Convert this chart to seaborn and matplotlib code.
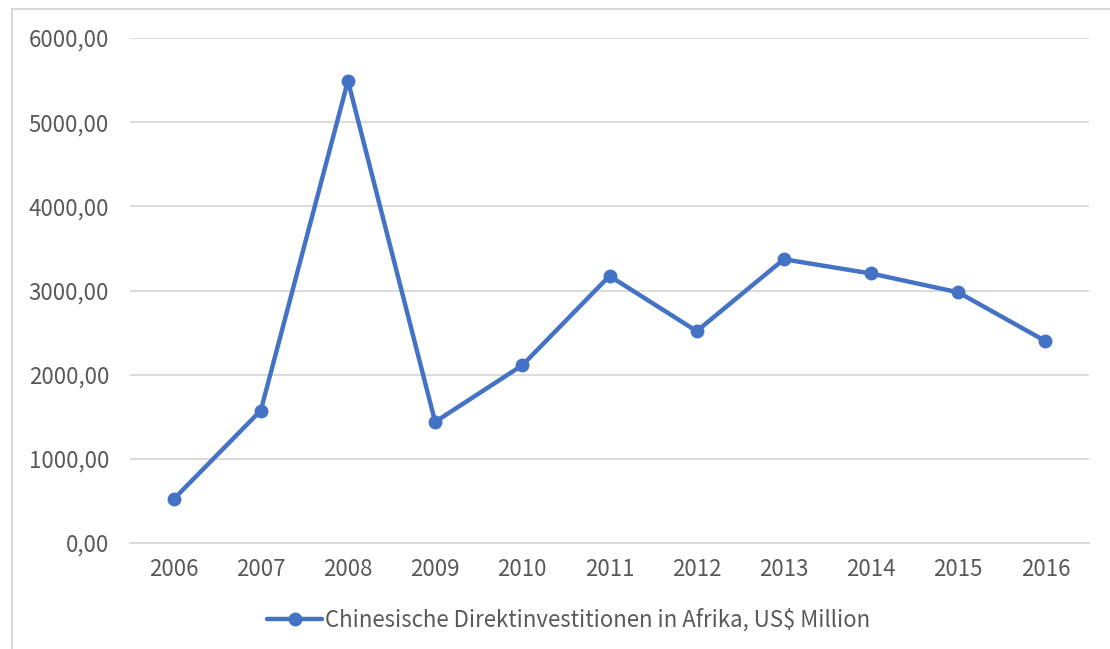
import matplotlib
matplotlib.use("Agg")
import matplotlib.pyplot as plt
import seaborn as sns
import pandas as pd
from matplotlib.ticker import FuncFormatter, MultipleLocator
from matplotlib.patches import Rectangle

years = ["2006", "2007", "2008", "2009", "2010", "2011", "2012", "2013", "2014", "2015", "2016"]
fdi = [520, 1574, 5491, 1439, 2112, 3173, 2517, 3371, 3202, 2978, 2399]
series_name = "Chinesische Direktinvestitionen in Afrika, US$ Million"

sns.set_style("white")
plt.rcParams['font.family'] = ['Noto Sans CJK SC', 'DejaVu Sans']

df = pd.DataFrame({"Jahr": years, "Wert": fdi, "Serie": series_name})

fig = plt.figure(figsize=(11.1, 6.49), dpi=100)
ax = fig.add_axes([130/1110, 1-543/649, (1089-130)/1110, (543-38)/649])

line_col = "#4472C4"
sns.lineplot(data=df, x="Jahr", y="Wert", hue="Serie", palette=[line_col],
             marker="o", markersize=10, markeredgewidth=0, linewidth=3.2,
             ax=ax, sort=False)

ax.set_xlim(-0.5, len(years) - 0.5)
ax.set_ylim(0, 6000)
ax.yaxis.set_major_locator(MultipleLocator(1000))
ax.yaxis.set_major_formatter(FuncFormatter(lambda v, p: f"{v:.2f}".replace(".", ",")))
ax.grid(axis="y", color="#d9d9d9", linewidth=1.3)
ax.grid(axis="x", visible=False)
for s in ["left", "right", "top"]:
    ax.spines[s].set_visible(False)
ax.spines["bottom"].set_color("#d9d9d9")
ax.spines["bottom"].set_linewidth(1.3)
ax.tick_params(axis="both", length=0, labelsize=16, colors="#595959")
ax.tick_params(axis="y", pad=15)
ax.tick_params(axis="x", pad=11)
ax.set_xlabel("")
ax.set_ylabel("")

leg = ax.legend(loc="upper center", bbox_to_anchor=(0.457, -0.09), frameon=False,
                fontsize=16, handlelength=2.5, handletextpad=0.1, labelcolor="#595959")

fig.patches.append(Rectangle((12/1110, -0.1), 1.2, 1 - 9/649 + 0.1, transform=fig.transFigure,
                             fill=False, edgecolor="#d9d9d9", linewidth=1.5, zorder=0))

fig.savefig("out.png", dpi=100)
